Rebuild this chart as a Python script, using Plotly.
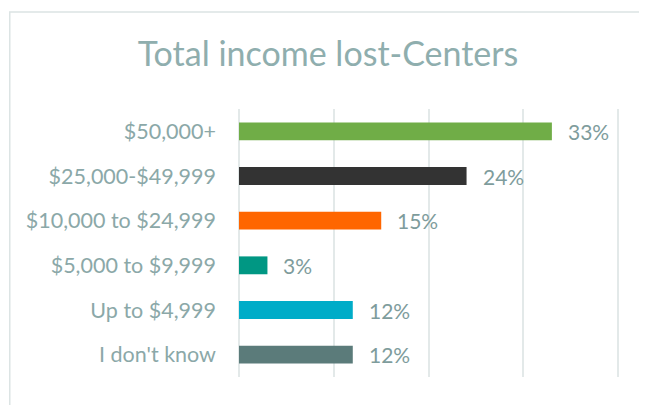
import plotly.graph_objects as go

categories = ["I don't know", "Up to $4,999", "$5,000 to $9,999",
              "$10,000 to $24,999", "$25,000-$49,999", "$50,000+"]
values = [12, 12, 3, 15, 24, 33]
colors = ["#5B7B7A", "#00ACC8", "#009783", "#FF6600", "#333333", "#70AD47"]

text_col = "#8BA8A8"
font = "Lato"

fig = go.Figure()
fig.add_trace(go.Bar(
    y=categories, x=values, orientation="h",
    marker=dict(color=colors, line=dict(width=0)),
    width=0.4, hoverinfo="none", showlegend=False,
))

# percentage labels to the right of each bar
for c, v in zip(categories, values):
    fig.add_annotation(x=v, y=c, text=f"{v}%", showarrow=False,
                       xanchor="left", xshift=14,
                       font=dict(family=font, size=21, color="#7E9C9C"))

# outer chart frame
fig.add_shape(type="rect", xref="paper", yref="paper",
              x0=-0.597, x1=1.052, y0=-0.3, y1=1.362,
              line=dict(color="#DCE4E4", width=1.5), layer="below")

fig.update_xaxes(range=[0, 40.5], tickvals=[0, 10, 20, 30, 40],
                 showticklabels=False,
                 showgrid=True, gridcolor="#E3E9E9", gridwidth=1.5,
                 zeroline=True, zerolinecolor="#E3E9E9", zerolinewidth=1.5,
                 fixedrange=True)
fig.update_yaxes(showgrid=False, ticks="", ticklabelstandoff=22,
                 tickfont=dict(family=font, size=21.5, color=text_col))

# page body adds an 8px offset, so the figure is 8px smaller to fit the window
fig.update_layout(
    width=639, height=397,
    margin=dict(l=231, r=24, t=101, b=28, autoexpand=False),
    paper_bgcolor="white", plot_bgcolor="white",
    title=dict(text="Total income lost-Centers", x=0.5008, xanchor="center",
               y=0.8834, yanchor="middle",
               font=dict(family=font, size=34, color="#8FAEAE")),
    bargap=0.6,
)

fig.write_html("out.html")
